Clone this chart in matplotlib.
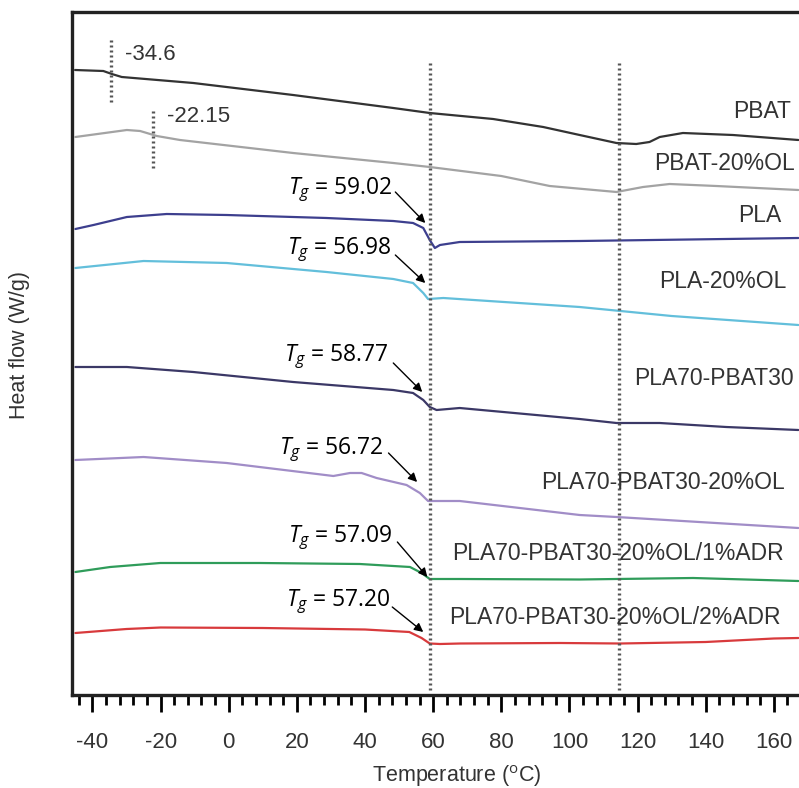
import matplotlib
matplotlib.use('Agg')
import matplotlib.pyplot as plt
from matplotlib.ticker import MultipleLocator

plt.rcParams['font.family'] = ['Liberation Sans', 'DejaVu Sans']
plt.rcParams['axes.unicode_minus'] = False
plt.rcParams['mathtext.fontset'] = 'custom'
plt.rcParams['mathtext.it'] = 'Open Sans:italic'
plt.rcParams['mathtext.rm'] = 'Open Sans'

# DSC traces (temperature in C, heat flow in arbitrary shifted units)
pbat_t = [-45.1, -36.8, -34.3, -31.4, -10.4, 18.9, 48.3, 59, 77.6, 92.3, 103, 113.8, 119.6, 123.5, 126.5, 133.3, 148, 167.2]
pbat_y = [6.30, 6.29, 6.26, 6.23, 6.17, 6.05, 5.92, 5.87, 5.81, 5.73, 5.65, 5.57, 5.56, 5.58, 5.63, 5.67, 5.65, 5.60]

pbat_ol_t = [-45, -29.9, -26, -21.1, -14.3, 18.9, 48.3, 59, 80, 94.2, 113.8, 121.6, 129.4, 143.1, 167.2]
pbat_ol_y = [5.63, 5.70, 5.69, 5.64, 5.60, 5.47, 5.37, 5.33, 5.24, 5.14, 5.08, 5.13, 5.16, 5.14, 5.10]

pla_t = [-45, -39.7, -29.9, -18.2, -0.6, 28.7, 48.3, 54.1, 57.1, 59, 60.5, 62, 67.8, 103, 167.2]
pla_y = [4.71, 4.75, 4.83, 4.86, 4.85, 4.82, 4.79, 4.77, 4.72, 4.60, 4.52, 4.55, 4.58, 4.59, 4.62]

pla_ol_t = [-45, -25, -0.6, 28.7, 48.3, 54.1, 57.1, 58.5, 63, 103, 130, 167.2]
pla_ol_y = [4.32, 4.39, 4.37, 4.28, 4.21, 4.17, 4.07, 4.01, 4.02, 3.93, 3.84, 3.75]

blend_t = [-45, -29.9, -10.4, 18.9, 48.3, 54.1, 57.1, 59, 61, 67.8, 103, 113.8, 126.5, 146, 167.2]
blend_y = [3.33, 3.33, 3.28, 3.18, 3.10, 3.07, 3.00, 2.93, 2.90, 2.92, 2.81, 2.77, 2.77, 2.73, 2.70]

blend_ol_t = [-45, -25, -0.6, 30.7, 35.6, 39, 43.4, 52.2, 56.1, 58.5, 67.8, 103, 113.8, 167.2]
blend_ol_y = [2.40, 2.43, 2.37, 2.24, 2.27, 2.27, 2.22, 2.15, 2.07, 1.99, 1.99, 1.85, 1.83, 1.72]

adr1_t = [-45, -34.8, -20.1, 9.2, 38.5, 53.2, 56.6, 59, 67.8, 103, 113.8, 136.3, 167.2]
adr1_y = [1.28, 1.33, 1.37, 1.37, 1.36, 1.33, 1.27, 1.21, 1.21, 1.205, 1.21, 1.22, 1.19]

adr2_t = [-45, -30, -20, 10, 40, 53, 56.6, 59, 62, 68, 97.3, 115, 140, 160, 167.2]
adr2_y = [0.67, 0.71, 0.725, 0.72, 0.705, 0.68, 0.62, 0.565, 0.56, 0.565, 0.57, 0.565, 0.58, 0.615, 0.62]

names = ['PBAT', 'PBAT-20%OL', 'PLA', 'PLA-20%OL', 'PLA70-PBAT30',
         'PLA70-PBAT30-20%OL', 'PLA70-PBAT30-20%OL/1%ADR', 'PLA70-PBAT30-20%OL/2%ADR']
colors = ['#333333', '#a3a3a3', '#3d3f8e', '#63bfdb', '#3b3866', '#a18dc7', '#2f9c5a', '#d83a3c']
traces = [(pbat_t, pbat_y), (pbat_ol_t, pbat_ol_y), (pla_t, pla_y), (pla_ol_t, pla_ol_y),
          (blend_t, blend_y), (blend_ol_t, blend_ol_y), (adr1_t, adr1_y), (adr2_t, adr2_y)]
# where each name sits (left edge in C, height)
label_x = [148.1, 125.0, 149.6, 126.2, 119.1, 91.7, 65.6, 64.6]
label_y = [5.89, 5.36, 4.84, 4.18, 3.21, 2.17, 1.47, 0.83]

# glass transitions
tg_text = ['59.02', '56.98', '58.77', '56.72', '57.09', '57.20']
tg_text_x = [48.0, 47.7, 46.8, 45.3, 48.0, 47.4]
tg_text_y = [5.10, 4.50, 3.43, 2.50, 1.62, 0.98]
tg_tail = [(48.9, 5.08), (48.9, 4.45), (48.3, 3.37), (46.9, 2.47), (49.5, 1.58), (48.0, 0.93)]
tg_head = [(57.7, 4.77), (57.7, 4.17), (56.8, 3.08), (55.3, 2.18), (58.3, 1.23), (57.1, 0.68)]

# PBAT Tg markers
pbat_tg = [-34.6, -22.15]
pbat_tg_span = [(5.98, 6.60), (5.32, 5.92)]
pbat_tg_label = [(-30.4, 6.45), (-18.2, 5.83)]

vlines_x = [59, 114.5]
major_ticks = [-40, -20, 0, 20, 40, 60, 80, 100, 120, 140, 160]

fig = plt.figure(figsize=(7.99, 7.88), dpi=100)
ax = fig.add_axes([72/799, 1 - 695/788, 770/799, 683/788])

for (t, y), c in zip(traces, colors):
    ax.plot(t, y, color=c, lw=1.6, solid_capstyle='round', solid_joinstyle='round')

dot = (0, (0.6, 0.9))
for xv in vlines_x:
    ax.plot([xv, xv], [0.10, 6.40], color='#555555', lw=2.4, linestyle=dot)
for xv, (y0, y1), (lx, ly) in zip(pbat_tg, pbat_tg_span, pbat_tg_label):
    ax.plot([xv, xv], [y0, y1], color='#555555', lw=2.4, linestyle=dot)
    ax.text(lx, ly, str(xv), fontsize=16, color='#333333', va='center', ha='left')

for n, lx, ly in zip(names, label_x, label_y):
    ax.text(lx, ly, n, fontsize=16.5, color='#333333', va='center', ha='left')

for s, tx, ty, tail, head in zip(tg_text, tg_text_x, tg_text_y, tg_tail, tg_head):
    ax.text(tx, ty, r'$T_g$ = ' + s, fontsize=16.5, family='Open Sans', color='black',
            ha='right', va='center')
    ax.annotate('', xy=head, xytext=tail,
                arrowprops=dict(arrowstyle='-|>', color='black', lw=1.0, mutation_scale=13,
                                shrinkA=0, shrinkB=0))

ax.set_xlim(-46, 180)
ax.set_ylim(0.05, 6.88)
ax.set_yticks([])
ax.set_xticks(major_ticks)
ax.xaxis.set_minor_locator(MultipleLocator(4))
ax.tick_params(axis='x', which='major', length=12, width=2, direction='out', labelsize=16,
               pad=15, labelcolor='#333333')
ax.tick_params(axis='x', which='minor', length=7, width=2, direction='out')
for s in ['left', 'top', 'bottom']:
    ax.spines[s].set_linewidth(2.4)
    ax.spines[s].set_color('#222222')
ax.spines['right'].set_visible(False)

ax.set_xlabel('Temperature ($^{\\mathrm{o}}$C)', fontsize=15.5, color='#333333', labelpad=7)
fig.text(20/799, 1 - 345/788, 'Heat flow (W/g)', rotation=90, fontsize=15.5, color='#333333',
         ha='center', va='center')

fig.savefig('out.png', dpi=100)
